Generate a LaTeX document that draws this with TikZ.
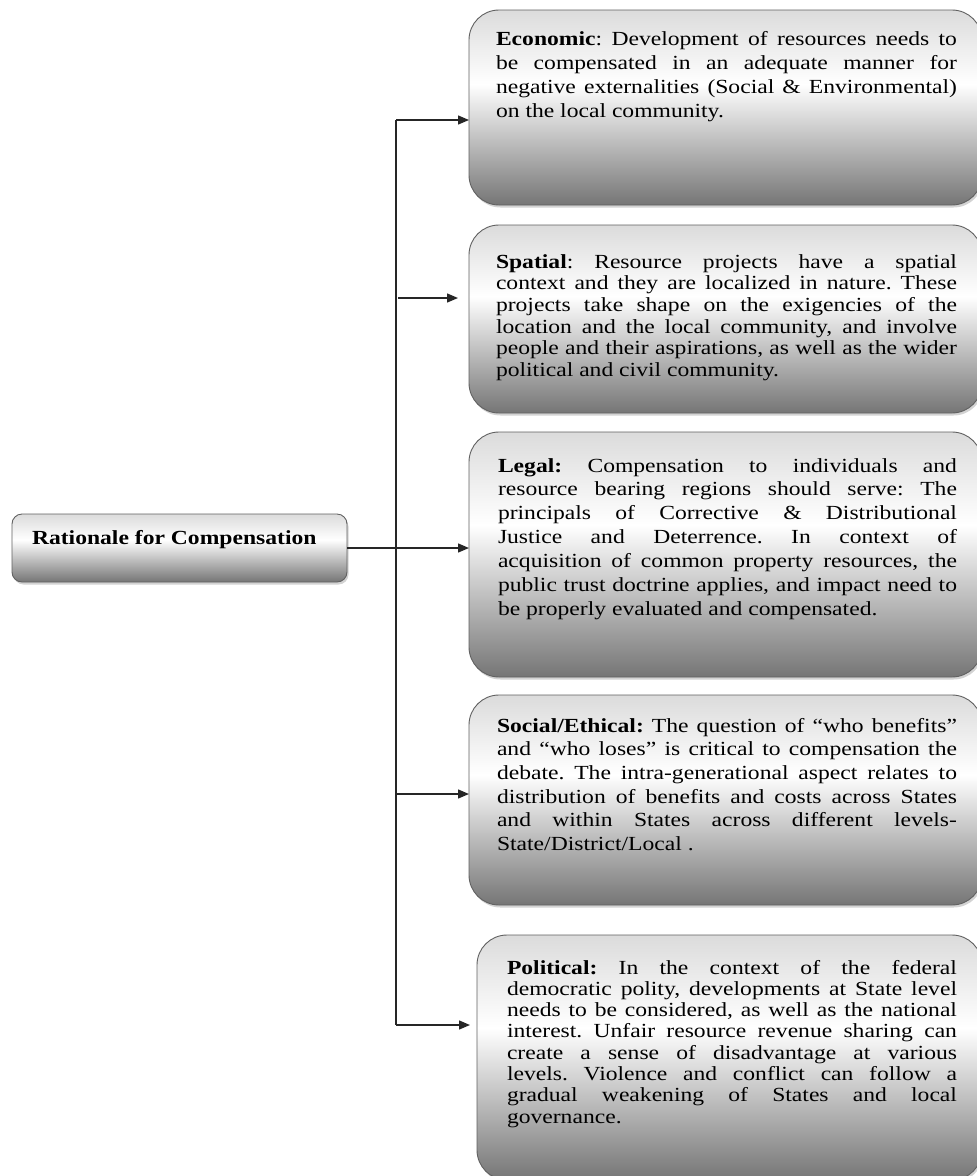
\documentclass[tikz,border=0pt]{standalone}
\usepackage{fontspec}
\setmainfont{Liberation Serif}[FakeStretch=1.18]
\usetikzlibrary{arrows.meta,shadows}
\definecolor{shTop}{gray}{0.86}
\definecolor{shBot}{gray}{0.46}
\definecolor{edgegray}{gray}{0.38}
\definecolor{linkgray}{gray}{0.15}
\pgfdeclareverticalshading{boxshade}{100bp}{color(0bp)=(shBot); color(25bp)=(shBot); color(56bp)=(white); color(75bp)=(shTop); color(100bp)=(shTop)}
\begin{document}
\frenchspacing
\begin{tikzpicture}[x=1pt,y=-1pt,
  card/.style={draw=edgegray, line width=0.9pt, shade, shading=boxshade,
    rounded corners=30pt, inner sep=0pt, outer sep=0pt, anchor=north west,
    drop shadow={shadow xshift=1.5pt, shadow yshift=-2.5pt, opacity=0.35}},
  rootbox/.style={card, rounded corners=10pt},
  para/.style={anchor=base west, inner sep=0pt, outer sep=0pt, align=justify,
    execute at begin node={\frenchspacing\parindent=0pt\tolerance=10000\hbadness=10000\pretolerance=-1\hyphenpenalty=10000}},
  link/.style={draw=linkgray, line width=1.4pt},
  arr/.style={link, -{Triangle[length=11pt,width=9pt]}}
]
\useasboundingbox (0,0) rectangle (977,1176);

% boxes
\node[rootbox, minimum width=335pt, minimum height=68pt] (root) at (12,514) {};
\node[card, minimum width=513pt, minimum height=195pt] (eco) at (469,10) {};
\node[card, minimum width=513pt, minimum height=188pt] (spa) at (469,225) {};
\node[card, minimum width=513pt, minimum height=245pt] (leg) at (469,432) {};
\node[card, minimum width=513pt, minimum height=210pt] (soc) at (469,695) {};
\node[card, minimum width=505pt, minimum height=245pt] (pol) at (477,935) {};

% texts
\node[para, text width=300pt, font=\fontsize{20}{24}\selectfont] (rootT) at (32,544) {\textbf{Rationale for Compensation}};

\node[para, text width=461pt, font=\fontsize{20}{24}\selectfont] (ecoT) at (496,45)
{\textbf{Economic}: Development of resources needs to\linebreak
be compensated in an adequate manner for\linebreak
negative externalities (Social \& Environmental)\linebreak
on the local community.};

\node[para, text width=461pt, font=\fontsize{20}{21.7}\selectfont] (spaT) at (496,268)
{\textbf{Spatial}: Resource projects have a spatial\linebreak
context and they are localized in nature. These\linebreak
projects take shape on the exigencies of the\linebreak
location and the local community, and involve\linebreak
people and their aspirations, as well as the wider\linebreak
political and civil community.};

\node[para, text width=459pt, font=\fontsize{20}{23.9}\selectfont] (legT) at (498,472)
{\textbf{Legal:} Compensation to individuals and\linebreak
resource bearing regions should serve: The\linebreak
principals of Corrective \& Distributional\linebreak
Justice and Deterrence. In context of\linebreak
acquisition of common property resources, the\linebreak
public trust doctrine applies, and impact need to\linebreak
be properly evaluated and compensated.};

\node[para, text width=460pt, font=\fontsize{20}{23.7}\selectfont] (socT) at (497,732)
{\textbf{Social/Ethical:} The question of “who benefits”\linebreak
and “who loses” is critical to compensation the\linebreak
debate. The intra-generational aspect relates to\linebreak
distribution of benefits and costs across States\linebreak
and within States across different levels-\linebreak
State/District/Local .};

\node[para, text width=450pt, font=\fontsize{20}{21.3}\selectfont] (polT) at (507,974)
{\textbf{Political:} In the context of the federal\linebreak
democratic polity, developments at State level\linebreak
needs to be considered, as well as the national\linebreak
interest. Unfair resource revenue sharing can\linebreak
create a sense of disadvantage at various\linebreak
levels. Violence and conflict can follow a\linebreak
gradual weakening of States and local\linebreak
governance.};

% connectors
\coordinate (tTop) at (396,120);
\coordinate (tBot) at (396,1025);
\coordinate (jSpa) at (398,298);
\coordinate (jSoc) at (396,794);
\draw[link] (tTop) -- (tBot);
\draw[arr] (tTop) -- (tTop -| eco.west);
\draw[arr, shorten >=11pt] (jSpa) -- (jSpa -| spa.west);
\draw[arr] (root.east) -- (root.east -| leg.west);
\draw[arr] (jSoc) -- (jSoc -| soc.west);
\draw[arr, shorten >=7pt] (tBot) -- (tBot -| pol.west);
\end{tikzpicture}
\end{document}
